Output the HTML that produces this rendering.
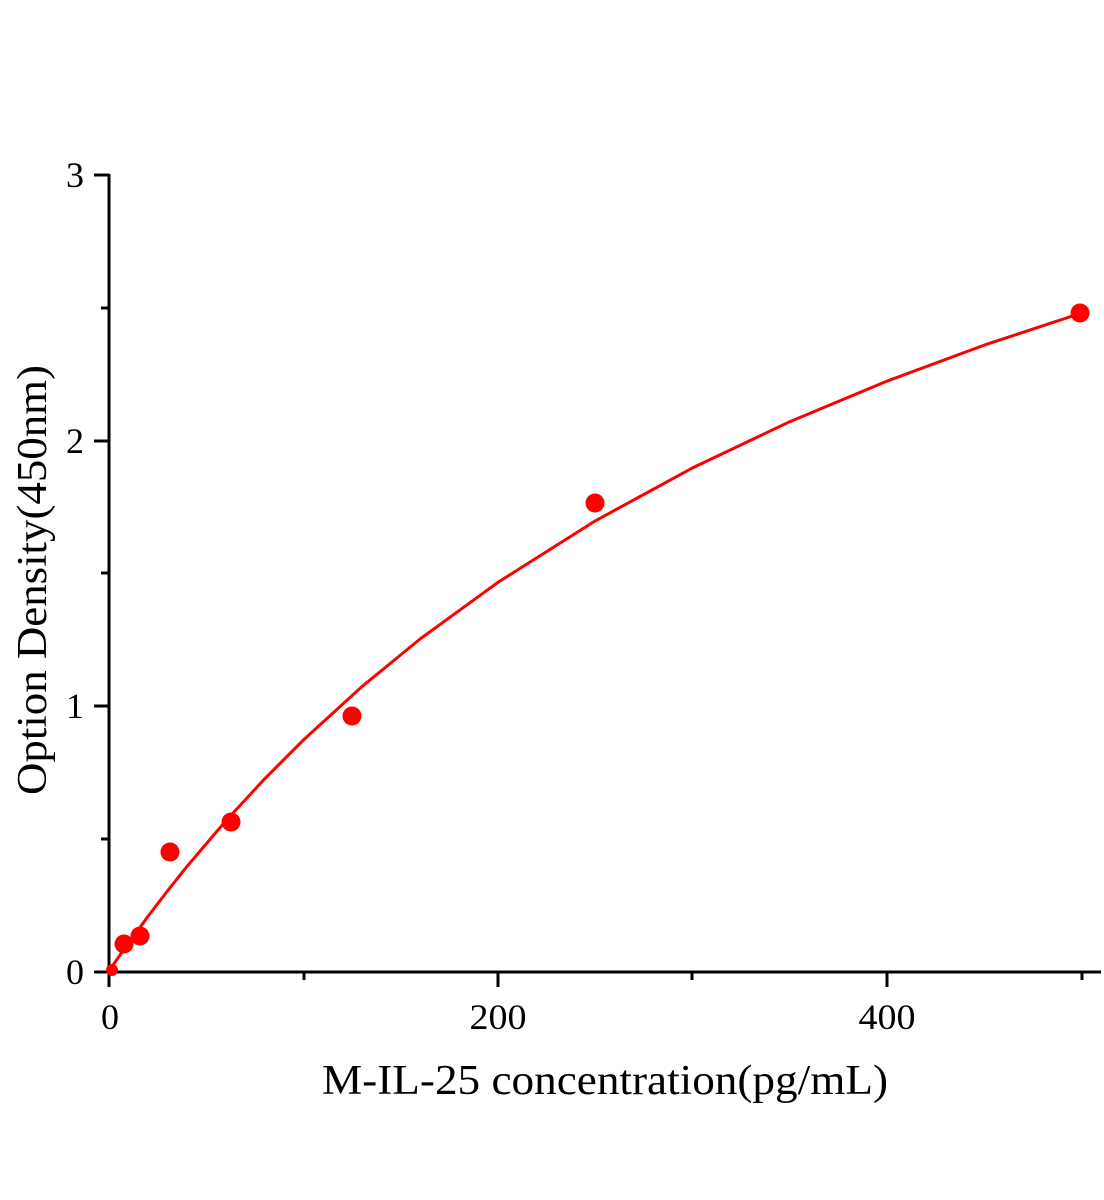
<!DOCTYPE html>
<html><head><style>body{margin:0;background:#fff}svg{display:block}</style></head><body>
<svg width="1104" height="1200" viewBox="0 0 1104 1200" xmlns="http://www.w3.org/2000/svg" font-family="Liberation Serif, serif">
<rect width="1104" height="1200" fill="#fff"/>
<g stroke="#000" stroke-width="3" fill="none">
<line x1="109" y1="174" x2="109" y2="987"/>
<line x1="94" y1="972" x2="1101" y2="972"/>
<line x1="94" y1="175" x2="109" y2="175"/>
<line x1="94" y1="441" x2="109" y2="441"/>
<line x1="94" y1="706" x2="109" y2="706"/>
<line x1="101" y1="308" x2="109" y2="308"/>
<line x1="101" y1="573" x2="109" y2="573"/>
<line x1="101" y1="839" x2="109" y2="839"/>
<line x1="498" y1="972" x2="498" y2="987"/>
<line x1="887" y1="972" x2="887" y2="987"/>
<line x1="304" y1="972" x2="304" y2="980"/>
<line x1="692" y1="972" x2="692" y2="980"/>
<line x1="1082" y1="972" x2="1082" y2="980"/>
</g>
<g font-size="36" text-anchor="end">
<text x="84" y="187">3</text>
<text x="84" y="453">2</text>
<text x="84" y="718">1</text>
<text x="84" y="984">0</text>
</g>
<g font-size="36" text-anchor="middle">
<text x="110" y="1029">0</text>
<text x="498" y="1029" textLength="57" lengthAdjust="spacingAndGlyphs">200</text>
<text x="887" y="1029" textLength="57" lengthAdjust="spacingAndGlyphs">400</text>
</g>
<text x="322" y="1094" font-size="42" textLength="566" lengthAdjust="spacingAndGlyphs">M-IL-25 concentration(pg/mL)</text>
<text transform="translate(46,795) rotate(-90)" font-size="42" textLength="430" lengthAdjust="spacingAndGlyphs">Option Density(450nm)</text>
<polyline fill="none" stroke="#f00" stroke-width="3" stroke-linejoin="round" points="109,971 118.7,956.9 128.45,943.2 147.9,916.5 167.35,891.1 186.8,866.7 225.7,821 264.6,778.9 303.5,739.9 361.85,686.7 420.2,638.9 498,582.3 595.25,520.9 692.5,467.9 789.75,421.7 887,381.1 984.25,345.1 1081.5,313"/>
<g fill="#f00">
<circle cx="112" cy="970" r="6"/>
<circle cx="124" cy="944" r="9.5"/>
<circle cx="140" cy="936" r="9.5"/>
<circle cx="170" cy="852" r="9.5"/>
<circle cx="231" cy="822" r="9.5"/>
<circle cx="352" cy="716" r="9.5"/>
<circle cx="595" cy="503" r="9.5"/>
<circle cx="1080" cy="313" r="9.5"/>
</g>
</svg>
</body></html>
